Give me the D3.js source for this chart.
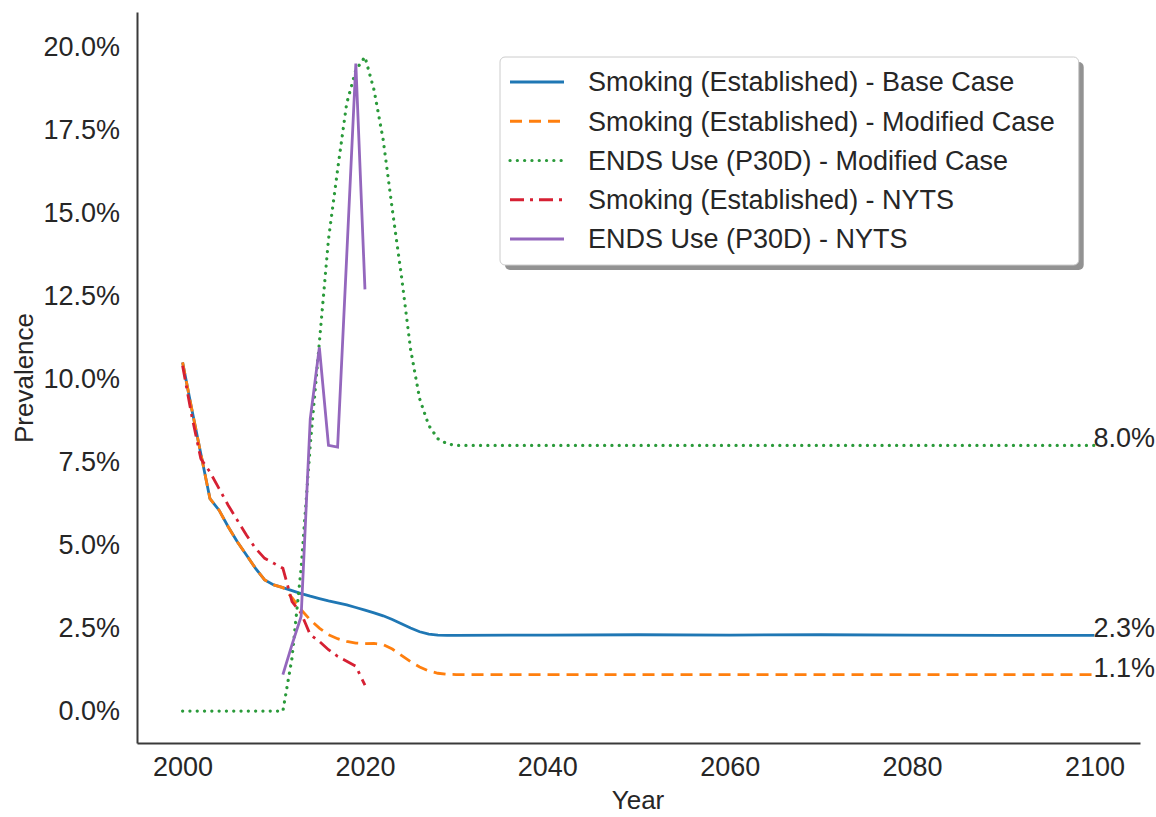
<!DOCTYPE html>
<html>
<head>
<meta charset="utf-8">
<script src="https://cdn.jsdelivr.net/npm/d3@7"></script>
<style>
  body { margin: 0; background: #fff; }
  text { font-family: "Liberation Sans", Arial, sans-serif; fill: #262626; }
</style>
</head>
<body>
<svg id="chart" width="1156" height="817"></svg>
<script>
// model output: yearly to 2030, then every decade (flat afterwards)
const modelYears = [2000, 2001, 2002, 2003, 2004, 2005, 2006, 2007, 2008, 2009,
  2010, 2011, 2012, 2013, 2014, 2015, 2016, 2017, 2018, 2019,
  2020, 2021, 2022, 2023, 2024, 2025, 2026, 2027, 2028, 2029,
  2030, 2040, 2050, 2060, 2070, 2080, 2090, 2100];

const smokingBase = [10.5, 9.1, 7.75, 6.4, 6.05, 5.55, 5.1, 4.7, 4.3, 3.95,
  3.8, 3.72, 3.63, 3.54, 3.46, 3.39, 3.32, 3.26, 3.2, 3.12,
  3.04, 2.96, 2.87, 2.76, 2.63, 2.5, 2.39, 2.32, 2.29, 2.28,
  2.28, 2.29, 2.3, 2.29, 2.3, 2.29, 2.28, 2.28];

const smokingModified = [10.5, 9.1, 7.75, 6.4, 6.05, 5.55, 5.1, 4.7, 4.3, 3.95,
  3.8, 3.72, 3.42, 3.05, 2.75, 2.5, 2.3, 2.18, 2.1, 2.05,
  2.03, 2.04, 2.0, 1.87, 1.68, 1.49, 1.33, 1.21, 1.14, 1.11,
  1.1, 1.1, 1.1, 1.1, 1.1, 1.1, 1.1, 1.1];

const endsModified = [0, 0, 0, 0, 0, 0, 0, 0, 0, 0,
  0, 0, 1.6, 4.3, 8.0, 11.1, 14.2, 16.3, 18.3, 19.3,
  19.7, 18.7, 17.2, 15.1, 13.1, 10.9, 9.4, 8.6, 8.2, 8.05,
  8.0, 8.0, 8.0, 8.0, 8.0, 8.0, 8.0, 8.0];

// survey data
const nytsYears = [2000, 2001, 2002, 2003, 2004, 2005, 2006, 2007, 2008, 2009,
  2010, 2011, 2012, 2013, 2014, 2015, 2016, 2017, 2018, 2019, 2020];
const nytsSmoking = [10.4, 8.9, 7.6, 7.2, 6.7, 6.2, 5.75, 5.3, 4.9, 4.6,
  4.45, 4.3, 3.3, 2.95, 2.3, 2.1, 1.85, 1.65, 1.5, 1.35, 0.78];

const nytsEndsYears = [2011, 2012, 2013, 2014, 2015, 2016, 2017, 2018, 2019, 2020];
const nytsEnds = [1.1, 2.0, 2.85, 8.8, 10.95, 8.0, 7.95, 13.7, 19.5, 12.7];

const yTicks = [0, 2.5, 5, 7.5, 10, 12.5, 15, 17.5, 20];
const xTicks = [2000, 2020, 2040, 2060, 2080, 2100];

const series = [
  { name: 'Smoking (Established) - Base Case', years: modelYears, values: smokingBase, color: '#1f77b4', dash: null, cap: 'butt', endLabel: true },
  { name: 'Smoking (Established) - Modified Case', years: modelYears, values: smokingModified, color: '#ff7f0e', dash: '12,7', cap: 'butt', endLabel: true },
  { name: 'ENDS Use (P30D) - Modified Case', years: modelYears, values: endsModified, color: '#2a9a3a', dash: '0.1,7.2', cap: 'round', endLabel: true },
  { name: 'Smoking (Established) - NYTS', years: nytsYears, values: nytsSmoking, color: '#d62033', dash: '14,6,3,6', cap: 'butt', endLabel: false },
  { name: 'ENDS Use (P30D) - NYTS', years: nytsEndsYears, values: nytsEnds, color: '#9467bd', dash: null, cap: 'butt', endLabel: false }
];

const svg = d3.select('#chart');

const x = d3.scaleLinear().domain([1995, 2105]).range([137, 1140]);
const y = d3.scaleLinear().domain([-0.96, 21.05]).range([743, 12]);

// axes
const xAxis = svg.append('g')
  .attr('transform', 'translate(0,743)')
  .call(d3.axisBottom(x).tickValues(xTicks).tickFormat(d3.format('d'))
    .tickSize(0).tickSizeOuter(0).tickPadding(14));

const yAxis = svg.append('g')
  .attr('transform', 'translate(137,0)')
  .call(d3.axisLeft(y).tickValues(yTicks).tickFormat(d => d.toFixed(1) + '%')
    .tickSize(0).tickSizeOuter(0).tickPadding(17));

[xAxis, yAxis].forEach(g => {
  g.select('.domain').attr('stroke', '#3a3a3a').attr('stroke-width', 2);
  g.selectAll('text').attr('font-size', 27).attr('fill', '#262626')
    .style('font-family', '"Liberation Sans", Arial, sans-serif');
});

svg.append('text')
  .attr('x', 638).attr('y', 809)
  .attr('text-anchor', 'middle')
  .attr('font-size', 26)
  .text('Year');

svg.append('text')
  .attr('transform', 'translate(33,378) rotate(-90)')
  .attr('text-anchor', 'middle')
  .attr('font-size', 26)
  .text('Prevalence');

// lines
const line = d3.line().x(d => x(d[0])).y(d => y(d[1]));

series.forEach(s => {
  svg.append('path')
    .datum(d3.zip(s.years, s.values))
    .attr('d', line)
    .attr('fill', 'none')
    .attr('stroke', s.color)
    .attr('stroke-width', s.cap === 'round' ? 3.2 : 2.8)
    .attr('stroke-linecap', s.cap)
    .attr('stroke-dasharray', s.dash);
});

// end labels at 2100
series.filter(s => s.endLabel).forEach(s => {
  const last = s.values[s.values.length - 1];
  svg.append('text')
    .attr('x', x(2100) - 1)
    .attr('y', y(last) + 2)
    .attr('font-size', 27)
    .text(last.toFixed(1) + '%');
});

// legend
const legend = svg.append('g').attr('transform', 'translate(500,57)');
const shadow = legend.append('rect');
const box = legend.append('rect');
const rowH = 39.25;

const rows = legend.selectAll('g.row')
  .data(series)
  .join('g')
  .attr('class', 'row')
  .attr('transform', (d, i) => `translate(0,${25 + i * rowH})`);

rows.append('line')
  .attr('x1', 10).attr('x2', 64)
  .attr('stroke', d => d.color)
  .attr('stroke-width', d => d.cap === 'round' ? 3.2 : 2.8)
  .attr('stroke-linecap', d => d.cap)
  .attr('stroke-dasharray', d => d.dash);

rows.append('text')
  .attr('x', 88)
  .attr('dy', '0.35em')
  .attr('font-size', 27)
  .text(d => d.name);

let maxW = 0;
rows.selectAll('text').each(function () { maxW = Math.max(maxW, this.getComputedTextLength()); });
const boxW = 88 + maxW + 24;
const boxH = 25 + 4 * rowH + 26;

shadow.attr('x', 5).attr('y', 5).attr('width', boxW).attr('height', boxH)
  .attr('rx', 5).attr('fill', '#6e6e6e').attr('opacity', 0.75);
box.attr('width', boxW).attr('height', boxH).attr('rx', 5)
  .attr('fill', '#fff').attr('stroke', '#cccccc').attr('stroke-width', 1);
</script>
</body>
</html>
